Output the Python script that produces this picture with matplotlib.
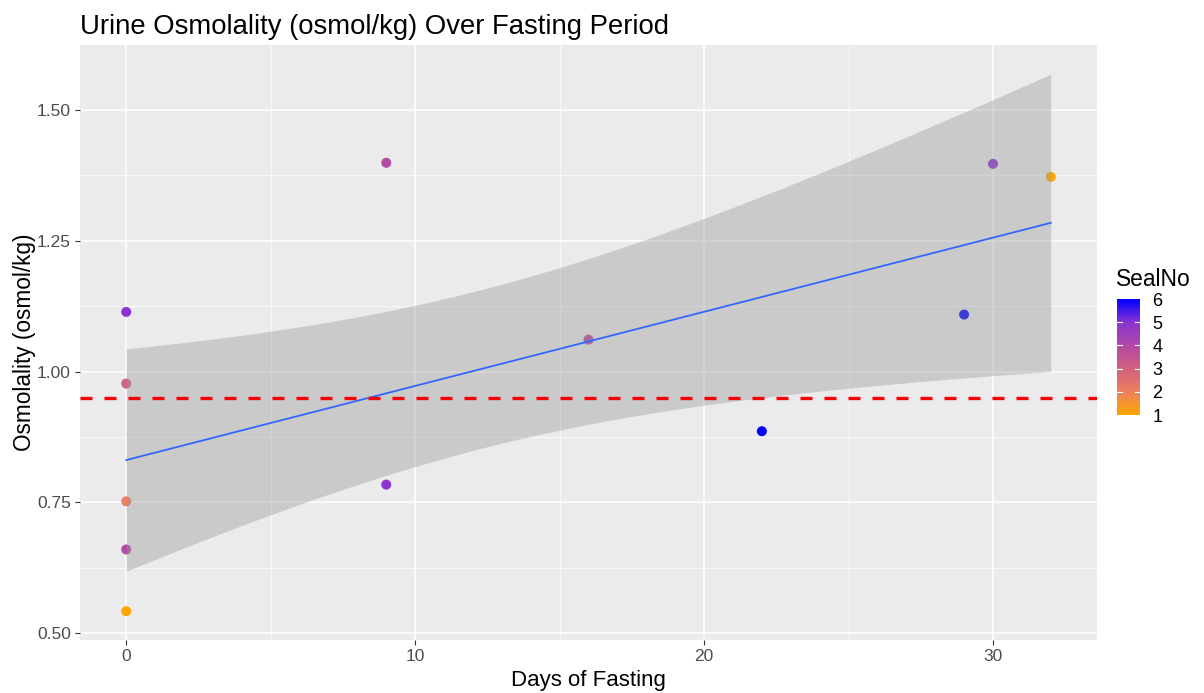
import numpy as np
import matplotlib
matplotlib.use("Agg")
import matplotlib.pyplot as plt
from matplotlib.colors import LinearSegmentedColormap, Normalize
from matplotlib.ticker import MultipleLocator

plt.rcParams['font.family'] = ['Liberation Sans', 'DejaVu Sans']

days = [0, 0, 0, 0, 0, 9, 9, 16, 22, 29, 30, 32]
osmolality = [1.114, 0.977, 0.752, 0.660, 0.542, 1.399, 0.784, 1.061, 0.886, 1.109, 1.397, 1.372]
seal_no = [5, 3, 2, 4, 1, 4, 5, 4, 6, 6, 5, 1]
threshold = 0.95
x_ticks = [0, 10, 20, 30]
y_ticks = [0.50, 0.75, 1.00, 1.25, 1.50]
y_tick_labels = ["0.50", "0.75", "1.00", "1.25", "1.50"]
legend_ticks = [1, 2, 3, 4, 5, 6]

cmap = LinearSegmentedColormap.from_list(
    "seal", [(0.0, "#FFA500"), (0.2, "#EC8060"), (0.4, "#D2607E"),
             (0.6, "#B24AA6"), (0.8, "#8A34D2"), (1.0, "#0000FF")])
norm = Normalize(1, 6)

fig = plt.figure(figsize=(12.04, 6.93), dpi=100)
ax = fig.add_axes([80 / 1204, 0.0765, 1017 / 1204, 0.8585])
ax.set_facecolor("#EBEBEB")
for s in ax.spines.values():
    s.set_visible(False)

x = np.array(days, dtype=float)
y = np.array(osmolality)
ax.scatter(x, y, c=seal_no, cmap=cmap, norm=norm, s=52, zorder=3, edgecolors="none")

# linear fit with 95% CI
n = len(x)
b1, b0 = np.polyfit(x, y, 1)
resid = y - (b0 + b1 * x)
s_err = np.sqrt(np.sum(resid ** 2) / (n - 2))
xm = x.mean()
sxx = np.sum((x - xm) ** 2)
xs = np.linspace(x.min(), x.max(), 80)
fit = b0 + b1 * xs
se = s_err * np.sqrt(1.0 / n + (xs - xm) ** 2 / sxx)
t = 2.228
ax.fill_between(xs, fit - t * se, fit + t * se, color="#999999", alpha=0.4, lw=0, zorder=4)
ax.plot(xs, fit, color="#3366FF", lw=1.3, zorder=5)

ax.axhline(threshold, color="#FF0000", lw=2.4, dashes=(3.6, 3.6), zorder=6)

ax.set_xlim(-1.6, 33.6)
ax.set_ylim(0.487, 1.624)
ax.set_xticks(x_ticks)
ax.set_yticks(y_ticks)
ax.set_yticklabels(y_tick_labels)
ax.xaxis.set_minor_locator(MultipleLocator(5))
ax.yaxis.set_minor_locator(MultipleLocator(0.125))
ax.grid(which="major", color="white", lw=1.1, zorder=0)
ax.grid(which="minor", color="white", lw=0.5, zorder=0)
ax.set_axisbelow(True)
ax.tick_params(which="major", length=3.5, width=0.8, color="#333333",
               labelsize=12.5, labelcolor="#4D4D4D", pad=3)
ax.tick_params(which="minor", length=0)

ax.set_xlabel("Days of Fasting", fontsize=16, color="black", labelpad=4)
ax.set_ylabel("Osmolality (osmol/kg)", fontsize=16.3, color="black", labelpad=1)
ax.set_title("Urine Osmolality (osmol/kg) Over Fasting Period", fontsize=19.8,
             loc="left", pad=8)

# colorbar legend
cax = fig.add_axes([1117 / 1204, 1 - 415 / 693, 23 / 1204, 116 / 693])
grad = np.linspace(1, 6, 200).reshape(-1, 1)
cax.imshow(grad, aspect="auto", cmap=cmap, norm=norm, origin="lower",
           extent=[0, 1, 1, 6])
cax.set_xlim(0, 1)
cax.set_ylim(1, 6)
cax.set_xticks([])
cax.set_yticks(legend_ticks)
cax.yaxis.tick_right()
cax.tick_params(axis="y", length=0, labelsize=13, labelcolor="black", pad=9)
for s in cax.spines.values():
    s.set_visible(False)
for v in legend_ticks[1:-1]:
    cax.plot([0, 0.2], [v, v], color="white", lw=0.8)
    cax.plot([0.8, 1], [v, v], color="white", lw=0.8)
fig.text(1116 / 1204, 1 - 280 / 693, "SealNo", fontsize=16.4, va="center", ha="left")

fig.savefig("out.png", dpi=100)
